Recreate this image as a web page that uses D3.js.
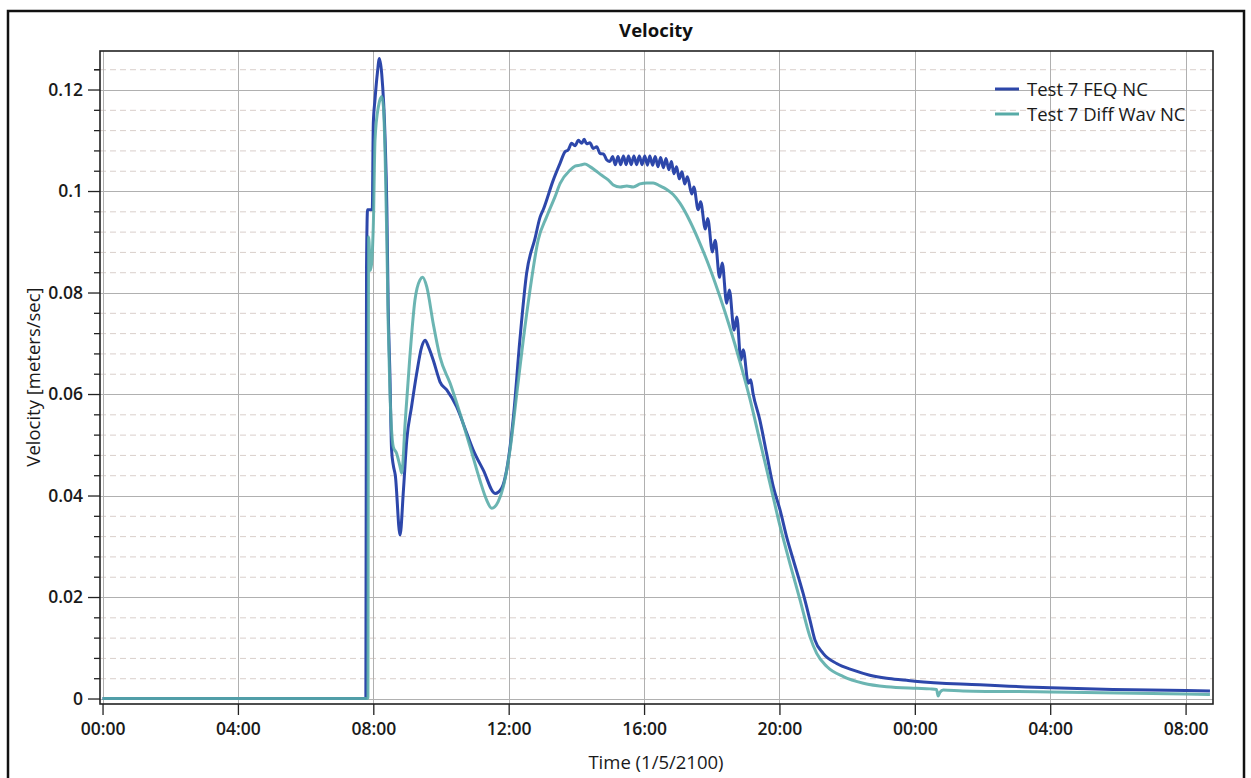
<!DOCTYPE html>
<html><head><meta charset="utf-8">
<script src="https://cdn.jsdelivr.net/npm/d3@7"></script>
<style>
body{margin:0;background:#fff;}
svg{display:block;font-family:"Open Sans","Noto Sans",sans-serif;}
</style>
</head><body>
<svg id="c" width="1251" height="778"></svg>
<script>
// ---- data (hours since 1/5/2100 00:00, velocity m/s) ----
const xTickHours = [0, 4, 8, 12, 16, 20, 24, 28, 32];
const yTickValues = [0, 0.02, 0.04, 0.06, 0.08, 0.1, 0.12];
const seriesNames = ["Test 7 FEQ NC", "Test 7 Diff Wav NC"];
const seriesColors = ["#2d47aa", "#57aba7"];

const timeFEQ = [0, 7.78, 7.80, 7.83, 7.97, 8.00, 8.05, 8.12, 8.18, 8.25, 8.35, 8.40, 8.44, 8.49, 8.54, 8.59, 8.65, 8.79, 8.89, 8.99,
  9.13, 9.28, 9.43, 9.53, 9.63, 9.77, 9.92, 9.97, 10.17, 10.46, 10.76, 10.95, 11.25, 11.60, 11.79, 11.94, 12.14, 12.33, 12.53, 12.78,
  12.93, 13.02, 13.32, 13.52, 13.66, 13.76, 13.86, 13.96, 14.06, 14.16, 14.23, 14.30, 14.40, 14.50, 14.60, 14.70, 14.80, 14.90, 14.99,
  15.07, 15.15, 15.23, 15.31, 15.39, 15.47, 15.54, 15.62, 15.70, 15.78, 15.86, 15.94, 16.02, 16.10, 16.17, 16.25, 16.33, 16.41, 16.49,
  16.57, 16.65, 16.73, 16.81, 16.88, 16.96, 17.04, 17.12, 17.20, 17.28, 17.41, 17.47, 17.60, 17.67, 17.81, 17.88, 18.02, 18.10, 18.23,
  18.31, 18.44, 18.52, 18.66, 18.74, 18.86, 18.93, 19.08, 19.15, 19.22, 19.42, 19.62, 19.82, 20.02, 20.21, 20.41, 20.70, 20.90, 21.05,
  21.29, 21.69, 22.18, 22.67, 23.17, 23.76, 24.00, 25.92, 28.01, 29.85, 32.01, 32.72];
const velocityFEQ = [0, 0, 0.085, 0.0963, 0.0963, 0.1133, 0.118, 0.1232, 0.1261, 0.123, 0.110, 0.0969, 0.0772, 0.0641, 0.049, 0.046, 0.044, 0.0322, 0.041, 0.051,
  0.0575, 0.064, 0.0693, 0.0706, 0.0693, 0.0667, 0.0634, 0.0624, 0.0608, 0.0575, 0.0523, 0.049, 0.045, 0.0404, 0.0414, 0.045, 0.0555, 0.0706, 0.0838, 0.0907,
  0.0949, 0.0963, 0.1022, 0.1055, 0.1077, 0.1081, 0.1094, 0.1089, 0.1100, 0.1094, 0.1102, 0.1093, 0.1095, 0.1084, 0.1087, 0.1074, 0.1073, 0.1061, 0.1058,
  0.1068, 0.1052, 0.1068, 0.1052, 0.1069, 0.1052, 0.1069, 0.1052, 0.1069, 0.1052, 0.1069, 0.1052, 0.1069, 0.1051, 0.1069, 0.1051, 0.1068, 0.1048, 0.1066,
  0.1046, 0.1064, 0.1042, 0.1058, 0.1034, 0.1048, 0.1024, 0.1038, 0.1014, 0.1028, 0.0994, 0.1008, 0.0963, 0.0979, 0.0925, 0.0946, 0.0880, 0.0903, 0.0830,
  0.0858, 0.0779, 0.0805, 0.0726, 0.0752, 0.0667, 0.0687, 0.0621, 0.0628, 0.0601, 0.0549, 0.0483, 0.0417, 0.0371, 0.0319, 0.0273, 0.0207, 0.0155, 0.0115,
  0.0089, 0.0069, 0.0056, 0.0046, 0.0040, 0.0036, 0.0034, 0.0027, 0.0021, 0.0018, 0.0016, 0.0015];

const timeDiffWav = [0, 7.84, 7.86, 7.92, 8.00, 8.05, 8.15, 8.25, 8.30, 8.35, 8.40, 8.44, 8.49, 8.59, 8.69, 8.79, 8.84, 8.94, 9.08, 9.23,
  9.38, 9.46, 9.58, 9.77, 9.97, 10.27, 10.56, 10.86, 11.15, 11.35, 11.50, 11.69, 11.84, 12.04, 12.24, 12.43, 12.63, 12.87, 13.12, 13.37,
  13.52, 13.81, 13.96, 14.11, 14.25, 14.40, 14.55, 14.75, 14.94, 15.09, 15.29, 15.49, 15.68, 15.88, 16.08, 16.27, 16.47, 16.67, 16.86,
  17.06, 17.36, 17.65, 17.95, 18.24, 18.54, 18.83, 19.13, 19.42, 19.72, 20.02, 20.31, 20.61, 20.90, 21.10, 21.40, 21.89, 22.48, 23.17,
  24.05, 24.45, 24.64, 24.69, 24.74, 24.84, 25.42, 28.01, 32.01, 32.72];
const velocityDiffWav = [0, 0, 0.091, 0.0844, 0.093, 0.110, 0.1166, 0.1186, 0.1166, 0.1068, 0.0903, 0.0739, 0.0608, 0.0496, 0.0483, 0.0457, 0.0444, 0.0542, 0.0673, 0.0785,
  0.0825, 0.0830, 0.0811, 0.0739, 0.0673, 0.0621, 0.0562, 0.0496, 0.0430, 0.0391, 0.0375, 0.0388, 0.0417, 0.0490, 0.0601, 0.0706, 0.0805, 0.0903, 0.0949, 0.0989,
  0.1015, 0.1041, 0.1049, 0.1051, 0.1053, 0.1048, 0.1041, 0.1031, 0.1022, 0.1012, 0.1008, 0.1010, 0.1008, 0.1014, 0.1016, 0.1016, 0.1010, 0.1003, 0.0993,
  0.0976, 0.0940, 0.0897, 0.0847, 0.0792, 0.0730, 0.0664, 0.0590, 0.0508, 0.0424, 0.0339, 0.0266, 0.0194, 0.0122, 0.0089, 0.0063, 0.0043, 0.0030, 0.0023,
  0.0020, 0.0019, 0.0018, 0.0005, 0.0012, 0.0017, 0.0015, 0.0013, 0.0009, 0.0008];

// ---- layout ----
const plot = {left: 100, right: 1213, top: 51, bottom: 704};
const svg = d3.select("#c");

const x = d3.scaleLinear().domain([-0.075, 32.81]).range([plot.left, plot.right]);
const y = d3.scaleLinear().domain([-0.00108, 0.12759]).range([plot.bottom, plot.top]);

// outer frame
svg.append("rect").attr("x", 8).attr("y", 11).attr("width", 1236).attr("height", 820)
  .attr("fill", "#fff").attr("stroke", "#111").attr("stroke-width", 2.5);

// title
svg.append("text").attr("x", 656).attr("y", 37).attr("text-anchor", "middle")
  .attr("font-size", 18.5).attr("font-weight", 700).attr("fill", "#111").text("Velocity");

// grid
const g = svg.append("g");
const minorVals = d3.range(1, 32).map(i => i * 0.004).filter(v => Math.abs(v / 0.02 - Math.round(v / 0.02)) > 1e-6);
g.selectAll("line.minor").data(minorVals).join("line")
  .attr("x1", plot.left).attr("x2", plot.right)
  .attr("y1", d => y(d) + 0.5).attr("y2", d => y(d) + 0.5)
  .attr("stroke", "#d9cfcb").attr("stroke-width", 1).attr("stroke-dasharray", "6,4");
g.selectAll("line.hmaj").data(yTickValues).join("line")
  .attr("x1", plot.left).attr("x2", plot.right)
  .attr("y1", d => Math.round(y(d)) + 0.5).attr("y2", d => Math.round(y(d)) + 0.5)
  .attr("stroke", "#b0b0b0").attr("stroke-width", 1);
svg.append("g").selectAll("line").data(xTickHours).join("line")
  .attr("y1", plot.top).attr("y2", plot.bottom)
  .attr("x1", d => Math.round(x(d)) + 0.5).attr("x2", d => Math.round(x(d)) + 0.5)
  .attr("stroke", "#b0b0b0").attr("stroke-width", 1);

// series
const line = d3.line().curve(d3.curveMonotoneX).x(d => x(d[0])).y(d => y(d[1]));
const dataFEQ = timeFEQ.map((t, i) => [t, velocityFEQ[i]]);
const dataDW = timeDiffWav.map((t, i) => [t, velocityDiffWav[i]]);
svg.append("clipPath").attr("id", "clp").append("rect")
  .attr("x", plot.left).attr("y", plot.top).attr("width", plot.right - plot.left).attr("height", plot.bottom - plot.top);
const sg = svg.append("g").attr("clip-path", "url(#clp)");
sg.append("path").datum(dataFEQ).attr("d", line).attr("fill", "none")
  .attr("stroke", seriesColors[0]).attr("stroke-width", 3).attr("stroke-linejoin", "round");
sg.append("path").datum(dataDW).attr("d", line).attr("fill", "none")
  .attr("stroke", seriesColors[1]).attr("stroke-width", 3).attr("stroke-linejoin", "round").attr("stroke-opacity", 0.88);

// plot border
svg.append("rect").attr("x", plot.left).attr("y", plot.top)
  .attr("width", plot.right - plot.left).attr("height", plot.bottom - plot.top)
  .attr("fill", "none").attr("stroke", "#222").attr("stroke-width", 1.6);

// axes
const fmtY = d => d === 0 ? "0" : d3.format(".2~f")(d);
const yAxis = svg.append("g").attr("transform", `translate(${plot.left},0)`)
  .call(d3.axisLeft(y).tickValues(yTickValues).tickSize(12).tickPadding(5).tickFormat(fmtY));
const yMinor = svg.append("g").attr("transform", `translate(${plot.left},0)`)
  .call(d3.axisLeft(y).tickValues(minorVals.concat([0.124])).tickSize(6).tickFormat(""));
const xAxis = svg.append("g").attr("transform", `translate(0,${plot.bottom})`)
  .call(d3.axisBottom(x).tickValues(xTickHours).tickSize(11).tickPadding(8)
    .tickFormat(h => String(h % 24).padStart(2, "0") + ":00"));
[yAxis, yMinor, xAxis].forEach(a => {
  a.select(".domain").remove();
  a.selectAll(".tick line").attr("stroke", "#222").attr("stroke-width", 1.3);
  a.selectAll(".tick text").attr("font-family", "'Open Sans', sans-serif").attr("font-size", 17.5)
    .attr("font-weight", 600).attr("fill", "#1a1a1a");
});

// axis titles
svg.append("text").attr("x", 656).attr("y", 769).attr("text-anchor", "middle")
  .attr("font-size", 18.5).attr("fill", "#1a1a1a").text("Time (1/5/2100)");
svg.append("text").attr("transform", "translate(40,377) rotate(-90)").attr("text-anchor", "middle")
  .attr("font-size", 18.5).attr("fill", "#1a1a1a").text("Velocity [meters/sec]");

// legend
const lg = svg.append("g");
seriesNames.forEach((name, i) => {
  const ly = 89 + i * 25;
  lg.append("line").attr("x1", 995).attr("x2", 1019).attr("y1", ly).attr("y2", ly)
    .attr("stroke", seriesColors[i]).attr("stroke-width", 3);
  lg.append("text").attr("x", 1027).attr("y", ly + 6.5).attr("font-size", 18.5).attr("fill", "#1a1a1a").text(name);
});
</script>
</body></html>
